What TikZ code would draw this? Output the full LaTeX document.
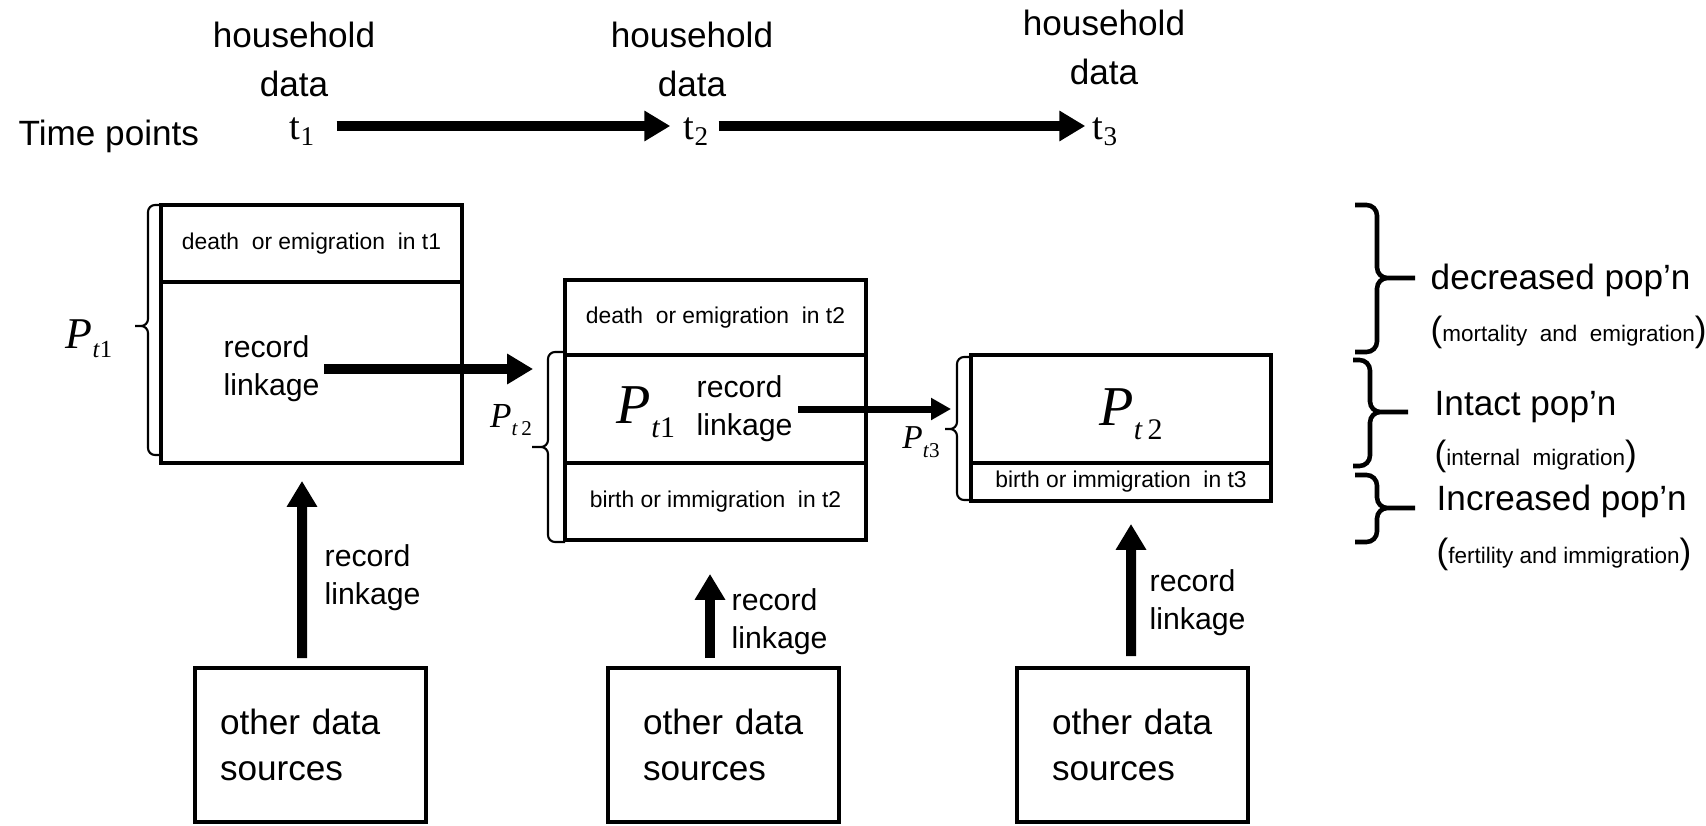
\documentclass[tikz,border=0pt]{standalone}
\usepackage{fontspec}
\setmainfont{Liberation Sans}
\newfontfamily\tnr{Liberation Serif}
\usetikzlibrary{arrows.meta,calc}

\begin{document}
\begin{tikzpicture}[x=1cm,y=1cm,
  every node/.style={font=\fontsize{10}{14}\selectfont,inner sep=0pt},
  cell/.style={draw,line width=1.1pt,minimum width=3.01cm,font=\fontsize{6.5}{8}\selectfont},
  src/.style={draw,line width=1.1pt,minimum width=2.31cm,minimum height=1.54cm,
    text width=1.61cm,inner xsep=0.35cm,align=left,font=\fontsize{10}{13}\selectfont},
  lnk/.style={anchor=west,align=left,font=\fontsize{8.6}{10.8}\selectfont},
  tpt/.style={anchor=base,font=\tnr\fontsize{11}{13}\selectfont},
  fat/.style={line width=0.1cm,-{Triangle[length=0.26cm,width=0.29cm]}},
  slim/.style={line width=0.07cm,-{Triangle[length=0.2cm,width=0.21cm]}},
  brk/.style={line width=0.6pt,rounded corners=2pt},
  rbr/.style={line width=1.3pt,rounded corners=3pt}]
\useasboundingbox (0,0) rectangle (17.06,-8.26);
% time line
\node[align=center] (hh1) at (2.94,-0.595) {household\\data};
\node[align=center] (hh2) at (6.92,-0.595) {household\\data};
\node[align=center] (hh3) at (11.04,-0.475) {household\\data};
\node[anchor=base west] (tp) at (0.18,-1.46) {Time points};
\node[tpt] (t1) at (3.03,-1.40) {t\textsubscript{1}};
\node[tpt] (t2) at (6.97,-1.40) {t\textsubscript{2}};
\node[tpt] (t3) at (11.06,-1.40) {t\textsubscript{3}};
\draw[fat] ([xshift=0.2cm,yshift=0.14cm]t1.base east) -- ([xshift=-0.13cm,yshift=0.14cm]t2.base west);
\draw[fat] ([xshift=0.08cm,yshift=0.14cm]t2.base east) -- ([xshift=-0.07cm,yshift=0.14cm]t3.base west);
% population boxes
\node[cell,minimum height=0.77cm] (b1top) at (3.115,-2.435) {death\ \ or emigration\ \ in t1};
\node[cell,minimum height=1.81cm] (b1mid) at (3.115,-3.725) {};
\node[lnk] (lk1) at (2.23,-3.69) {record\\linkage};
\node[cell,minimum height=0.75cm] (b2top) at (7.155,-3.175) {death\ \ or emigration\ \ in t2};
\node[cell,minimum height=1.08cm] (b2mid) at (7.155,-4.09) {};
\node[cell,minimum height=0.77cm] (b2bot) at (7.155,-5.015) {birth or immigration\ \ in t2};
\node[font=\tnr\fontsize{16}{16}\selectfont] (p1in) at (6.46,-4.12)
  {\textit{P}\raisebox{-0.25em}{\fontsize{8.5}{9}\selectfont\textit{t}1}};
\node[lnk] (lk2) at (6.96,-4.09) {record\\linkage};
\node[cell,minimum width=3.00cm,minimum height=1.08cm] (b3top) at (11.21,-4.09) {};
\node[cell,minimum width=3.00cm,minimum height=0.38cm] (b3bot) at (11.21,-4.82) {birth or immigration\ \ in t3};
\node[font=\tnr\fontsize{16}{16}\selectfont] (p2in) at (11.31,-4.14)
  {\textit{P}\raisebox{-0.25em}{\fontsize{8.5}{9}\selectfont\textit{t}\,2}};
\draw[fat,shorten >=0.3cm] ([xshift=0.04cm]lk1.east) -- (lk1.east -| b2mid.west);
\draw[slim,shorten >=0.18cm] ([xshift=0.05cm]lk2.east) -- (lk2.east -| b3top.west);
% brackets on the left
\node[font=\tnr\fontsize{12.5}{13}\selectfont] (pl1) at (0.89,-3.39)
  {\textit{P}\raisebox{-0.2em}{\fontsize{7}{8}\selectfont\textit{t}1}};
\node[font=\tnr\fontsize{10}{10}\selectfont] (pl2) at (5.11,-4.20)
  {\textit{P}\raisebox{-0.25em}{\fontsize{6}{7}\selectfont\textit{t}\,2}};
\node[font=\tnr\fontsize{9.5}{10}\selectfont] (pl3) at (9.21,-4.42)
  {\textit{P}\raisebox{-0.25em}{\fontsize{6}{7}\selectfont\textit{t}3}};
\draw[brk] (1.61,-2.05) -| (1.48,-3.26) -- (1.35,-3.26) (1.61,-4.55) -| (1.48,-3.26) -- (1.35,-3.26);
\draw[brk] (5.65,-3.52) -| (5.48,-4.47) -- (5.32,-4.47) (5.65,-5.42) -| (5.48,-4.47) -- (5.32,-4.47);
\draw[brk] (9.71,-3.57) -| (9.57,-4.29) -- (9.45,-4.29) (9.71,-5.00) -| (9.57,-4.29) -- (9.45,-4.29);
% braces on the right
\draw[rbr] (13.55,-2.05) -| (13.77,-2.78) -- (14.15,-2.78) (13.55,-3.52) -| (13.77,-2.78) -- (14.15,-2.78);
\draw[rbr] (13.53,-3.60) -| (13.70,-4.12) -- (14.08,-4.12) (13.53,-4.66) -| (13.70,-4.12) -- (14.08,-4.12);
\draw[rbr] (13.55,-4.75) -| (13.77,-5.08) -- (14.15,-5.08) (13.55,-5.42) -| (13.77,-5.08) -- (14.15,-5.08);
\node[anchor=west] (dec) at (14.30,-2.80) {decreased pop'n};
\node[anchor=west] (decw) at (14.30,-3.32) {(\fontsize{6.4}{8}\selectfont mortality\ \ and\ \ emigration\fontsize{10}{14}\selectfont)};
\node[anchor=west] (int) at (14.34,-4.07) {Intact pop'n};
\node[anchor=west] (intw) at (14.34,-4.56) {(\fontsize{6.4}{8}\selectfont internal\ \ migration\fontsize{10}{14}\selectfont)};
\node[anchor=west] (inc) at (14.36,-5.01) {Increased pop'n};
\node[anchor=west] (incw) at (14.36,-5.54) {(\fontsize{6.4}{8}\selectfont fertility and immigration\fontsize{10}{14}\selectfont)};
% other sources
\node[src,text width=1.81cm,inner xsep=0.25cm] (srcA) at (3.105,-7.45) {other data\\sources};
\node[src] (srcB) at (7.235,-7.45) {other data\\sources};
\node[src] (srcC) at (11.325,-7.45) {other data\\sources};
\draw[fat] ([shift={(-0.085,0.08)}]srcA.north) -- ([shift={(-0.095,-0.16)}]b1mid.south);
\draw[fat] ([shift={(-0.135,0.08)}]srcB.north) -- ([shift={(-0.055,-0.32)}]b2bot.south);
\draw[fat] ([shift={(-0.015,0.10)}]srcC.north) -- ([shift={(0.10,-0.21)}]b3bot.south);
\node[lnk] (lkA) at (3.24,-5.78) {record\\linkage};
\node[lnk] (lkB) at (7.31,-6.22) {record\\linkage};
\node[lnk] (lkC) at (11.49,-6.03) {record\\linkage};
\end{tikzpicture}
\end{document}
